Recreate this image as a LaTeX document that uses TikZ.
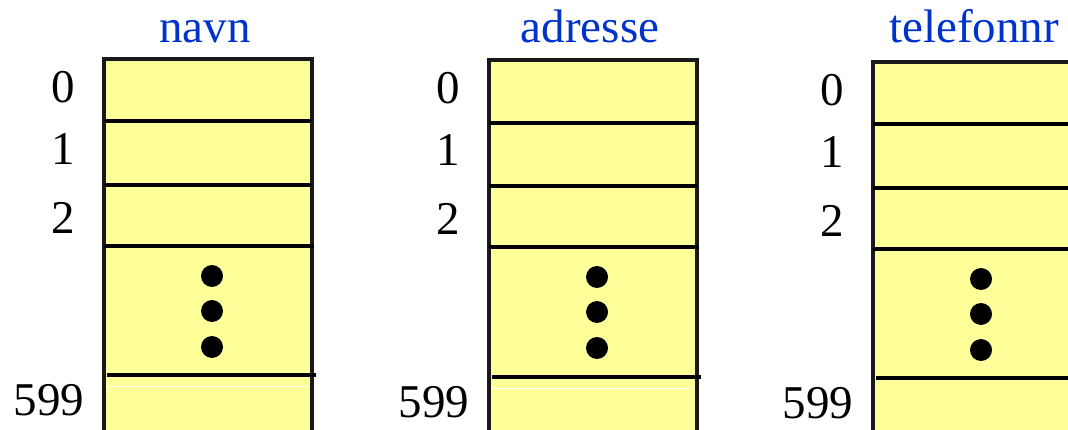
\documentclass[tikz,border=0pt]{standalone}
\usepackage{fontspec}
\setmainfont{Liberation Serif}
\definecolor{cellfill}{RGB}{255,255,153}
\definecolor{titleblue}{RGB}{0,51,204}
\begin{document}
\begin{tikzpicture}[x=1pt,y=-1pt,
  cellline/.style={line width=4.2pt,black},
  border/.style={line width=3.4pt,black!90},
  idx/.style={font=\fontsize{47}{50}\selectfont, inner sep=0pt, anchor=base},
  ttl/.style={font=\fontsize{47}{50}\selectfont, text=titleblue, inner sep=0pt, anchor=base},
  bigdot/.style={circle, fill=black, minimum size=22pt, inner sep=0pt}]
\useasboundingbox (0,0) rectangle (1068,430);
\clip (0,0) rectangle (1068,430);
\foreach \L/\T/\a/\b/\c/\d/\name/\id/\w in {104/59/121/185/246/375/navn/A/1, 489/60/123/186/247/377/adresse/B/1, 873/62/124/188/249/378/telefonnr/C/0}{
  \fill[cellfill] (\L,\T) rectangle (\L+208,445);
  \draw[border] (\L,445) -- (\L,\T) -- (\L+208,\T) -- (\L+208,445);
  \draw[cellline] (\L,\a) -- (\L+208,\a);
  \draw[cellline] (\L,\b) -- (\L+208,\b);
  \draw[cellline] (\L,\c) -- (\L+210,\c);
  \draw[cellline] (\L+3,\d) -- (\L+212,\d);
  \ifnum\w=1
    \draw[white, line width=0.8pt] (\L+3,\d+11) -- (\L+206,\d+11);
  \fi
  \node[ttl] (title\id) at (\L+101,43) {\name};
  \node[idx] (i0\id) at (\L-41,\T+44) {0};
  \node[idx] (i1\id) at (\L-41,\T+106) {1};
  \node[idx] (i2\id) at (\L-41,\T+175) {2};
  \node[idx] (i599\id) at (\L-55,\d+40) {599};
  \node[bigdot] (d1\id) at (\L+108,\c+30) {};
  \node[bigdot] (d2\id) at (\L+108,\c+65) {};
  \node[bigdot] (d3\id) at (\L+108,\c+101) {};
}
\end{tikzpicture}
\end{document}
